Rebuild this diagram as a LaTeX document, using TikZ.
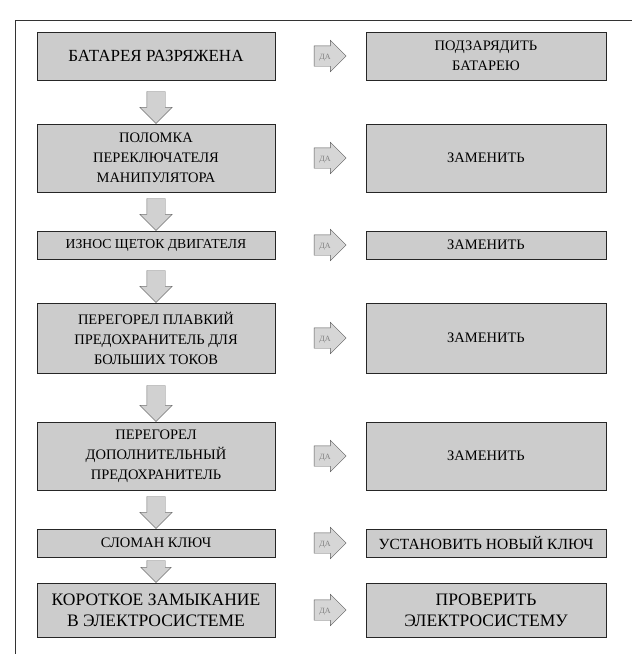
\documentclass[tikz,border=0pt]{standalone}
\usepackage{fontspec}
\setmainfont{Liberation Serif}
\usetikzlibrary{shapes.arrows,calc}

\tikzset{
  cause/.style={draw=black!85, fill=black!20, minimum width=238pt, align=center,
    inner sep=2pt, font=\fontsize{14.5}{20}\selectfont},
  remedy/.style={cause, minimum width=240pt},
  bigtext/.style={font=\fontsize{17.5}{21}\selectfont},
  yesarrow/.style={single arrow, draw=black!65, fill=black!16, minimum height=32pt,
    single arrow head extend=5.5pt, inner xsep=2pt, inner ysep=7pt, text height=6pt,
    text depth=0pt, text=black!50, font=\fontsize{8}{8}\selectfont},
  noarrow/.style={single arrow, shape border rotate=270, draw=black!55, fill=black!18,
    minimum height=32pt, single arrow head extend=7pt, inner sep=0pt,
    text width=18pt, text height=12pt, anchor=tip}
}

\begin{document}
\begin{tikzpicture}[x=1pt, y=-1pt]
  \useasboundingbox (0,0) rectangle (632,654);
  \draw[black!80, line width=1pt] (15,654)--(15,20)--(632,20); % frame

  % causes
  \node[cause, minimum height=48pt, font=\fontsize{17}{21}\selectfont] (c1) at (156,56) {БАТАРЕЯ РАЗРЯЖЕНА};
  \node[cause, minimum height=68pt] (c2) at (156,158) {ПОЛОМКА\\ПЕРЕКЛЮЧАТЕЛЯ\\МАНИПУЛЯТОРА};
  \node[cause, minimum height=28pt, font=\fontsize{13.7}{16}\selectfont] (c3) at (156,245) {ИЗНОС ЩЕТОК ДВИГАТЕЛЯ};
  \node[cause, minimum height=70pt] (c4) at (156,338) {ПЕРЕГОРЕЛ ПЛАВКИЙ\\ПРЕДОХРАНИТЕЛЬ ДЛЯ\\БОЛЬШИХ ТОКОВ};
  \node[cause, minimum height=68pt] (c5) at (156,456) {ПЕРЕГОРЕЛ\\ДОПОЛНИТЕЛЬНЫЙ\\ПРЕДОХРАНИТЕЛЬ};
  \node[cause, minimum height=28pt] (c6) at (156,543) {СЛОМАН КЛЮЧ};
  \node[cause, bigtext, minimum height=54pt] (c7) at (156,610) {КОРОТКОЕ ЗАМЫКАНИЕ\\В ЭЛЕКТРОСИСТЕМЕ};

  % remedies
  \node[remedy, minimum height=48pt] (r1) at (486,56) {ПОДЗАРЯДИТЬ\\БАТАРЕЮ};
  \node[remedy, minimum height=68pt] (r2) at (486,158) {ЗАМЕНИТЬ};
  \node[remedy, minimum height=28pt] (r3) at (486,245) {ЗАМЕНИТЬ};
  \node[remedy, minimum height=70pt] (r4) at (486,338) {ЗАМЕНИТЬ};
  \node[remedy, minimum height=68pt] (r5) at (486,456) {ЗАМЕНИТЬ};
  \node[remedy, minimum height=28pt, font=\fontsize{15.5}{18}\selectfont] (r6) at (486,543) {УСТАНОВИТЬ НОВЫЙ КЛЮЧ};
  \node[remedy, bigtext, minimum height=54pt] (r7) at (486,610) {ПРОВЕРИТЬ\\ЭЛЕКТРОСИСТЕМУ};

  % yes arrows
  \node[yesarrow] (y1) at ($(c1.east)!0.55!(r1.west)$) {ДА};
  \node[yesarrow] (y2) at ($(c2.east)!0.55!(r2.west)$) {ДА};
  \node[yesarrow] (y3) at ($(c3.east)!0.55!(r3.west)$) {ДА};
  \node[yesarrow] (y4) at ($(c4.east)!0.55!(r4.west)$) {ДА};
  \node[yesarrow] (y5) at ($(c5.east)!0.55!(r5.west)$) {ДА};
  \node[yesarrow] (y6) at ($(c6.east)!0.55!(r6.west)$) {ДА};
  \node[yesarrow] (y7) at ($(c7.east)!0.55!(r7.west)$) {ДА};

  % no arrows
  \node[noarrow] (n1) at (c2.north) {};
  \node[noarrow] (n2) at (c3.north) {};
  \node[noarrow] (n3) at (c4.north) {};
  \node[noarrow, minimum height=36pt] (n4) at (c5.north) {};
  \node[noarrow] (n5) at (c6.north) {};
  \node[noarrow, minimum height=22pt, single arrow head extend=6pt] (n6) at (c7.north) {};
\end{tikzpicture}
\end{document}
